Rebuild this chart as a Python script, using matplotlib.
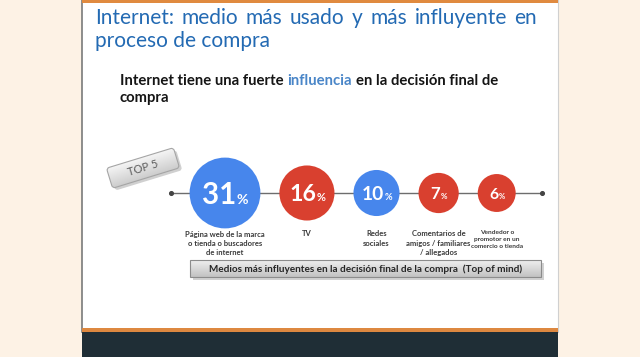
import numpy as np
import matplotlib.pyplot as plt
from matplotlib.patches import Rectangle, Circle, FancyBboxPatch
from matplotlib.transforms import Affine2D
from matplotlib.colors import LinearSegmentedColormap

plt.rcParams['font.family'] = ['Lato', 'DejaVu Sans']

# --- content ---
title_lines = ['Internet: medio más usado y más influyente en', 'proceso de compra']
subtitle_parts = [('Internet tiene una fuerte', '#151515'),
                  ('influencia', '#4a86c8'),
                  ('en la decisión final de', '#151515')]
subtitle_line2 = 'compra'
tag_text = 'TOP 5'
values = [31, 16, 10, 7, 6]
labels = ['Página web de la marca\no tienda o buscadores\nde internet',
          'TV',
          'Redes\nsociales',
          'Comentarios de\namigos / familiares\n/ allegados',
          'Vendedor o\npromotor en un\ncomercio o tienda']
circle_colors = ['#4786ec', '#d9402f', '#4786ec', '#d9402f', '#d9402f']
banner_text = 'Medios más influyentes en la decisión final de la compra  (Top of mind)'

TITLE_C = '#236ab3'

fig = plt.figure(figsize=(6.4, 3.57), dpi=100, facecolor='#fdf2e5')
ax = fig.add_axes([0, 0, 1, 1])
ax.axis('off')
ax.set_xlim(0, 640)
ax.set_ylim(357, 0)
renderer = fig.canvas.get_renderer()


def width(s, size, weight='normal'):
    t = ax.text(0, 0, s, fontsize=size, fontweight=weight)
    w = t.get_window_extent(renderer).width
    t.remove()
    return w


# slide frame
ax.add_patch(Rectangle((82, 0), 476, 332, fc='white', ec='none', zorder=0))
ax.plot([82, 82], [0, 332], color='#7a7a7a', lw=1.2, zorder=1)
ax.plot([558, 558], [0, 332], color='#d0d0d0', lw=0.8, zorder=1)
ax.add_patch(Rectangle((82, 0), 476, 3, fc='#e08a3f', ec='none', zorder=1))
ax.add_patch(Rectangle((82, 327.5), 476, 4.5, fc='#dd8840', ec='none', zorder=1))
ax.add_patch(Rectangle((82, 332), 476, 25, fc='#1f2e36', ec='none', zorder=1))

# title, first line justified
ts = 15
words = title_lines[0].split()
ws = [width(w, ts) for w in words]
gap = (537 - 95 - sum(ws)) / (len(words) - 1)
x = 95
for w, ww in zip(words, ws):
    ax.text(x, 24, w, fontsize=ts, color=TITLE_C, ha='left', va='baseline')
    x += ww + gap
ax.text(95, 47, title_lines[1], fontsize=ts, color=TITLE_C, ha='left', va='baseline')

# subtitle with one highlighted word
full = ' '.join(p[0] for p in subtitle_parts)
ss = 10 * 378 / width(full, 10, 'bold')
sp = width('a a', ss, 'bold') - width('aa', ss, 'bold')
x = 120
for txt, col in subtitle_parts:
    ax.text(x, 85, txt, fontsize=ss, fontweight='bold', color=col, ha='left', va='baseline')
    x += width(txt, ss, 'bold') + sp
ax.text(120, 102, subtitle_line2, fontsize=ss, fontweight='bold', color='#151515',
        ha='left', va='baseline')

# timeline
line_y = 193
ax.plot([171, 542], [line_y, line_y], color='#6d6d6d', lw=1, zorder=2)
ax.scatter([171, 542], [line_y, line_y], s=7, color='#444444', zorder=2)

radii = 9.6 * np.array(values) ** 0.38
cx = [225.0]
for i in range(1, len(values)):
    cx.append(cx[-1] + radii[i - 1] + 19 + radii[i])

lfs = 6.4 * 79 / width('Página web de la marca', 6.4, 'bold')
sfs = 5 * 52 / width('comercio o tienda', 5, 'bold')
for i, v in enumerate(values):
    r = radii[i]
    ax.add_patch(Circle((cx[i], line_y), r, fc=circle_colors[i], ec='none', zorder=3))
    fs = 0.6 * r
    num = str(v)
    wn = width(num, fs, 'bold')
    wp = width('%', fs * 0.48, 'bold')
    x0 = cx[i] - (wn + wp) / 2
    base = line_y + fs / 2
    ax.text(x0, base, num, fontsize=fs, fontweight='bold', color='white',
            ha='left', va='baseline', zorder=4)
    ax.text(x0 + wn + 0.5, base, '%', fontsize=fs * 0.48, fontweight='bold',
            color='white', ha='left', va='baseline', zorder=4)
    small = i == len(values) - 1
    ax.text(cx[i], 230.5, labels[i], fontsize=sfs if small else lfs, fontweight='bold',
            color='#3a3a3a', ha='center', va='top', linespacing=1.5 if small else 1.4)

# banner
grad = np.linspace(0, 1, 60).reshape(-1, 1)
gcmap = LinearSegmentedColormap.from_list('g', ['#efefef', '#c2c2c2'])
ax.add_patch(Rectangle((192.5, 262.5), 351, 17, fc='#9a9a9a', ec='none', alpha=0.45, zorder=2))
brect = Rectangle((190, 260), 351, 17, fc='none', ec='#8c8c8c', lw=0.8, zorder=4)
ax.add_patch(brect)
im = ax.imshow(grad, extent=(190, 541, 277, 260), cmap=gcmap, aspect='auto',
               origin='upper', zorder=3)
im.set_clip_path(brect)
bfs = 8 * 316 / width(banner_text, 8, 'bold')
ax.text(365.5, 268.8, banner_text, fontsize=bfs, fontweight='bold', color='#262626',
        ha='center', va='center', zorder=5)

# "TOP 5" tag
tx, ty, tw, th, ang = 143, 168, 70, 21, 17
rot = Affine2D().rotate_deg_around(tx, ty, -ang) + ax.transData
shadow = FancyBboxPatch((tx - tw / 2 + 2, ty - th / 2 + 3), tw, th,
                        boxstyle='round,pad=0,rounding_size=3', fc='#8a8a8a',
                        ec='none', alpha=0.4, transform=rot, zorder=2)
ax.add_patch(shadow)
tag = FancyBboxPatch((tx - tw / 2, ty - th / 2), tw, th,
                     boxstyle='round,pad=0,rounding_size=3', fc='none',
                     ec='#a5a5a5', lw=0.8, transform=rot, zorder=4)
ax.add_patch(tag)
tim = ax.imshow(grad, extent=(tx - tw / 2, tx + tw / 2, ty + th / 2, ty - th / 2),
                cmap=LinearSegmentedColormap.from_list('t', ['#f6f6f6', '#cdcdcd']),
                aspect='auto', origin='upper', zorder=3)
tim.set_transform(rot)
tim.set_clip_path(tag)
ax.text(tx, ty, tag_text, fontsize=8, color='#5a5a5a', rotation=ang,
        rotation_mode='anchor', ha='center', va='center', zorder=5)

ax.set_xlim(0, 640)
ax.set_ylim(357, 0)
fig.savefig('out.png', dpi=100, facecolor=fig.get_facecolor())
